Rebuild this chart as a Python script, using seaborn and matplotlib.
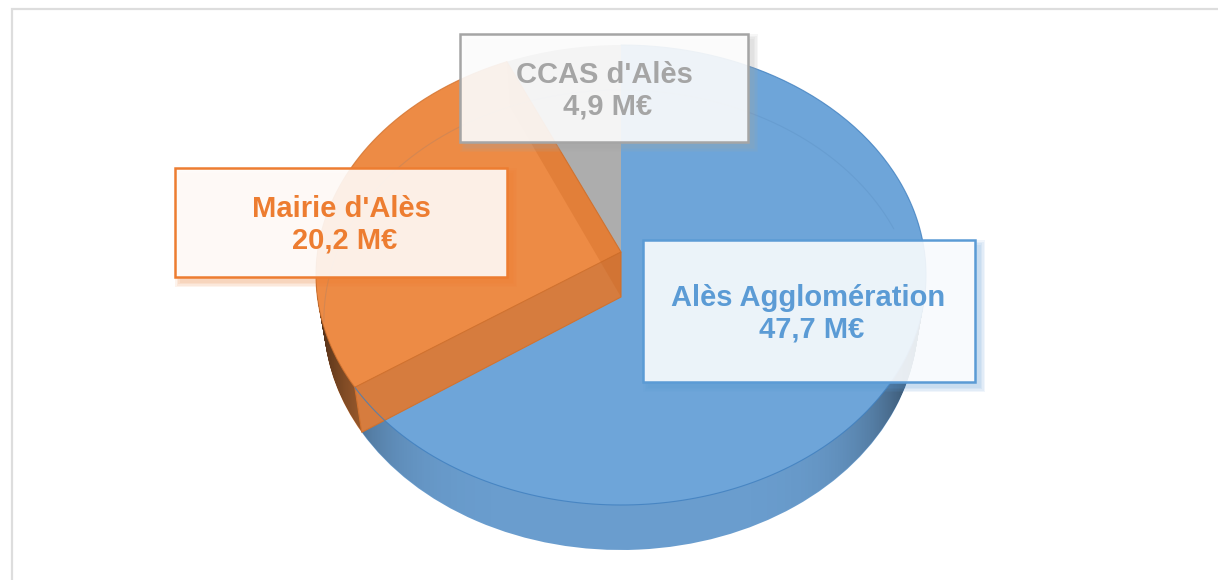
import numpy as np
import matplotlib
matplotlib.use("Agg")
import matplotlib.pyplot as plt
import matplotlib.transforms as mtransforms
from matplotlib.patches import Rectangle
from matplotlib.path import Path
import seaborn as sns

# Values in M€, clockwise from 12 o'clock
labels = ["Alès Agglomération", "Mairie d'Alès", "CCAS d'Alès"]
values = [47.7, 20.2, 4.9]
value_labels = ["47,7 M€", "20,2 M€", "4,9 M€"]

top_colors = ["#6EA5D9", "#ED8B45", "#ADADAD"]
wall_colors = ["#6A9DCE", "#C9763A", "#9A9A9A"]
edge_colors = ["#3F7FBF", "#D2722E", "#9A9A9A"]
text_colors = ["#5B9BD5", "#ED7D31", "#A5A5A5"]

# label boxes: left, top, right, bottom (px)
boxes = [(643, 240, 975, 382), (175, 168, 507, 277), (460, 34, 748, 142)]
text_pos = [(812, 314), (345, 225), (608, 91)]

# perspective of the disc
CX, CY = 621, 252
AX, BY, K = 303.5, 227.7, 0.1
DEPTH = 45
SHRINK = 0.026  # lower disc is a little narrower


class Tilt(mtransforms.Transform):
    input_dims = 2
    output_dims = 2
    is_separable = False

    def __init__(self, drop=0):
        super().__init__()
        self.drop = drop

    def transform_non_affine(self, values):
        values = np.asarray(values, dtype=float)
        u, v = values[:, 0], values[:, 1]
        w = 1 + K * v
        scale = 1 - SHRINK * self.drop / DEPTH
        return np.column_stack([CX + AX * scale * u / w, CY - BY * v / w + self.drop])


sns.set_theme(style="white")
plt.rcParams["font.family"] = ["Liberation Sans", "DejaVu Sans"]

fig = plt.figure(figsize=(12.18, 5.8), dpi=100)
ax = fig.add_axes([0, 0, 1, 1])


def draw_pie(drop, colors, zorder, **props):
    wedges, _ = ax.pie(values, colors=colors, startangle=90, counterclock=False,
                       radius=1, wedgeprops=props)
    for w in wedges:
        w.set_transform(Tilt(drop) + ax.transData)
        w.set_zorder(zorder)
    return wedges


def rim_points(f0, f1, drop=0, n=200):
    ang = 2 * np.pi * np.linspace(f0, f1, n)
    return Tilt(drop).transform_non_affine(np.column_stack([np.sin(ang), np.cos(ang)]))


# side of the disc: stacked layers
for drop in np.arange(DEPTH, 0, -2):
    draw_pie(drop, wall_colors, 1, linewidth=0)

# darkening toward the two ends of the side wall
grad = np.linspace(-1, 1, 610)
shade = np.zeros((1, 610, 4))
shade[0, :, 3] = 0.65 * np.abs(grad) ** 6
im = ax.imshow(shade, extent=(316, 926, 560, 250), aspect="auto", zorder=2)
outline = Path.make_compound_path(*[Path(rim_points(0, 1, d), closed=True)
                                    for d in np.arange(0, DEPTH + 1, 2)])
im.set_clip_path(outline, ax.transData)

# top face
draw_pie(0, top_colors, 3, linewidth=0)

# cut walls of the orange slice
fracs = np.cumsum(values) / np.sum(values)
p = rim_points(fracs[0], fracs[0], n=1)[0]
q = rim_points(fracs[0], fracs[0], DEPTH, n=1)[0]
ax.fill([CX, p[0], q[0], CX], [CY, p[1], q[1], CY + DEPTH],
        facecolor="#D67C3E", edgecolor="#D2722E", linewidth=0.8, zorder=4)
p = rim_points(fracs[1], fracs[1], n=1)[0]
q = rim_points(fracs[1], fracs[1], DEPTH, n=1)[0]
ax.fill([CX, p[0], q[0], CX], [CY, p[1], q[1], CY + DEPTH],
        facecolor="#C9641F", alpha=0.3, linewidth=0, zorder=4)
ax.plot([CX, p[0]], [CY, p[1]], color="#D2722E", lw=0.8, zorder=4)

# see-through back rim of the lower disc
back = rim_points(fracs[1] - 0.2, 1.2, DEPTH)
ax.plot(back[:, 0], back[:, 1], color="#3F6FA0", lw=0.8, alpha=0.14, zorder=5)

# outer rims of the top face
rim = rim_points(0, fracs[0])
ax.plot(rim[:, 0], rim[:, 1], color=edge_colors[0], lw=0.8, alpha=0.8, zorder=5)
rim = rim_points(fracs[0], fracs[1])
ax.plot(rim[:, 0], rim[:, 1], color=edge_colors[1], lw=0.8, alpha=0.8, zorder=5)

# label boxes with soft shadow
for i, (l, t, r, b) in enumerate(boxes):
    for grow in [5, 3.5, 2, 0.5]:
        ax.add_patch(Rectangle((l + 5 - grow, t + 5 - grow), r - l + 2 * grow, b - t + 2 * grow,
                               facecolor=text_colors[i], alpha=0.09, linewidth=0, zorder=6))
    ax.add_patch(Rectangle((l, t), r - l, b - t, facecolor=(1, 1, 1, 0.88),
                           edgecolor=text_colors[i], linewidth=1.8, zorder=7))
    ax.text(text_pos[i][0], text_pos[i][1], labels[i] + " \n" + value_labels[i],
            ha="center", va="center", color=text_colors[i], fontsize=21,
            fontweight="bold", linespacing=1.17, zorder=8)

# outer frame of the picture
ax.plot([12, 12, 1218], [580, 9, 9], color="#DDDDDD", lw=1.6, zorder=9, solid_joinstyle="miter")

ax.set_xlim(0, 1218)
ax.set_ylim(580, 0)
ax.set_aspect("auto")
ax.axis("off")
fig.savefig("out.png", dpi=100, facecolor="white")
